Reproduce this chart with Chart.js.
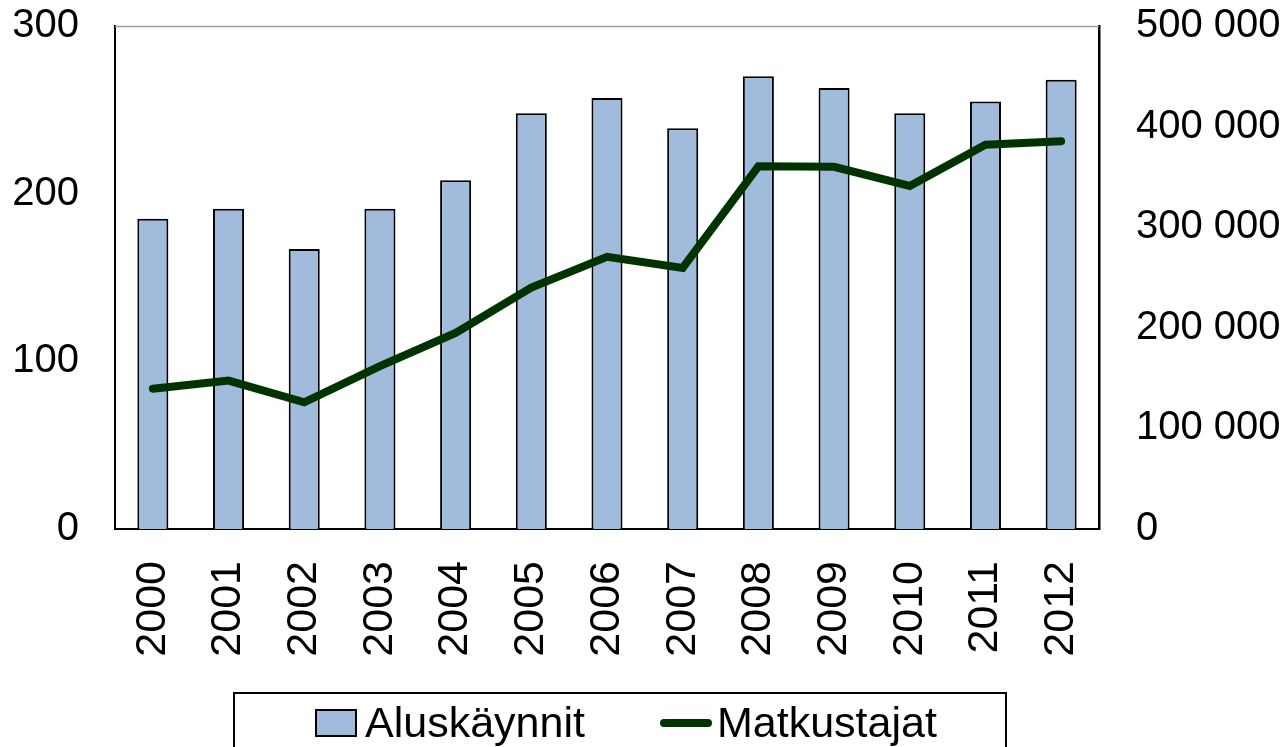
<!DOCTYPE html>
<html>
<head>
<meta charset="utf-8">
<script src="https://cdn.jsdelivr.net/npm/chart.js@4/dist/chart.umd.min.js"></script>
<style>
html,body{margin:0;padding:0;background:#fff;overflow:hidden;}
#wrap{position:relative;width:1286px;height:747px;}
#legend{position:absolute;left:233px;top:692px;width:774px;height:70px;border:2px solid #000;box-sizing:border-box;
font-family:"Liberation Sans",Arial,sans-serif;font-size:43px;color:#000;}
.item{position:absolute;top:4px;display:flex;align-items:center;}
.box{width:42px;height:28px;background:#A0BBDB;border:2px solid #000;box-sizing:border-box;margin-right:8px;}
.ln{width:52px;height:8px;background:#003300;border-radius:4px;margin-right:5px;}
</style>
</head>
<body>
<div id="wrap">
<canvas id="c" width="1286" height="747"></canvas>
<div id="legend">
  <div class="item" style="left:80px"><div class="box"></div>Aluskäynnit</div>
  <div class="item" style="left:425px"><div class="ln"></div>Matkustajat</div>
</div>
</div>
<script>
/* ===== DATA ===== */
const years = ["2000","2001","2002","2003","2004","2005","2006","2007","2008","2009","2010","2011","2012"];
const aluskaynnit = [185,191,167,191,208,248,257,239,270,263,248,255,268];
const matkustajat = [139500,147500,126000,162000,195000,240000,270500,259500,360500,360000,341000,382000,385500];
const leftTicks = [0,100,200,300];
const rightTicks = [0,100000,200000,300000,400000,500000];

const FONT = "'Liberation Sans', Arial, sans-serif";

function fmt(v){
  return String(v).replace(/\B(?=(\d{3})+(?!\d))/g," ");
}

/* top border of plot area (thin grey) */
const topLine = {
  id:"topLine",
  afterDraw(chart){
    const a = chart.chartArea, ctx = chart.ctx;
    ctx.save();
    ctx.strokeStyle = "#a0a0a0";
    ctx.lineWidth = 1.5;
    ctx.beginPath();
    ctx.moveTo(a.left, a.top+0.5);
    ctx.lineTo(a.right, a.top+0.5);
    ctx.stroke();
    ctx.restore();
  }
};

new Chart(document.getElementById("c"),{
  data:{
    labels:years,
    datasets:[
      {
        type:"line",
        label:"Matkustajat",
        data:matkustajat,
        yAxisID:"y2",
        borderColor:"#003300",
        borderWidth:8,
        pointRadius:0,
        tension:0,
        borderCapStyle:"round",
        borderJoinStyle:"miter",
        order:0
      },
      {
        type:"bar",
        label:"Aluskäynnit",
        data:aluskaynnit,
        yAxisID:"y",
        backgroundColor:"#A0BBDB",
        borderColor:"#000",
        borderWidth:2,
        barPercentage:0.41,
        categoryPercentage:1,
        order:1
      }
    ]
  },
  options:{
    responsive:false,
    animation:false,
    layout:{padding:{top:26,left:0,right:0,bottom:0}},
    plugins:{legend:{display:false},tooltip:{enabled:false}},
    scales:{
      x:{
        offset:true,
        grid:{display:false,drawTicks:false},
        border:{display:true,color:"#000",width:2},
        ticks:{
          color:"#000",
          font:{family:FONT,size:43},
          minRotation:90,
          maxRotation:90,
          padding:32,
          autoSkip:false
        },
        afterFit(s){ s.height = 218; s.paddingLeft = 0; s.paddingRight = 0; }
      },
      y:{
        position:"left",
        min:0,max:300,
        afterBuildTicks(s){ s.ticks = leftTicks.map(v=>({value:v})); },
        grid:{display:false,drawTicks:false},
        border:{display:true,color:"#000",width:2},
        ticks:{color:"#000",font:{family:FONT,size:40},padding:36},
        afterFit(s){ s.width = 115; s.paddingTop = 0; s.paddingBottom = 0; }
      },
      y2:{
        position:"right",
        min:0,max:500000,
        afterBuildTicks(s){ s.ticks = rightTicks.map(v=>({value:v})); },
        grid:{display:false,drawTicks:false},
        border:{display:true,color:"#000",width:2.5},
        ticks:{color:"#000",font:{family:FONT,size:40},padding:37,callback:v=>fmt(v)},
        afterFit(s){ s.width = 187; s.paddingTop = 0; s.paddingBottom = 0; }
      }
    }
  },
  plugins:[topLine]
});
</script>
</body>
</html>
